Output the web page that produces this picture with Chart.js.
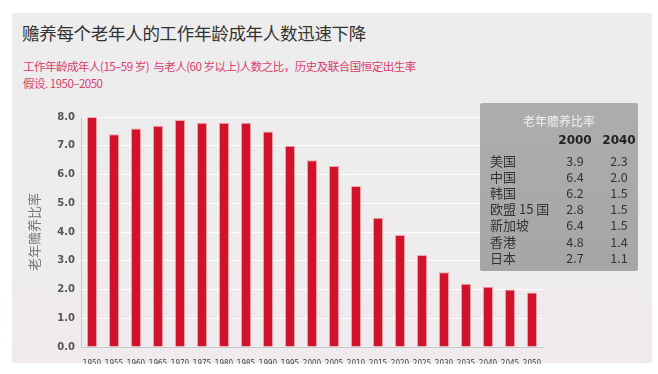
<!DOCTYPE html>
<html>
<head>
<meta charset="utf-8">
<script src="https://cdn.jsdelivr.net/npm/chart.js@4.4.1/dist/chart.umd.min.js"></script>
<style>
  html, body { margin: 0; padding: 0; background: #fff; }
  body { width: 658px; height: 374px; position: relative; overflow: hidden; font-family: "Noto Sans CJK SC", "Noto Sans", sans-serif; }
  #panel { position: absolute; left: 12px; top: 13px; width: 640px; height: 350px; background: linear-gradient(180deg, #ededed 0%, #eeecec 70%, #f0eaee 100%); }
  #title { position: absolute; left: 22px; top: 20px; font-size: 17.5px; color: #333; white-space: nowrap; letter-spacing: -0.3px; }
  .sub { position: absolute; left: 23px; font-size: 11.5px; color: #d83d70; white-space: nowrap; letter-spacing: -0.5px; }
  #chartWrap { position: absolute; left: 0; top: 0; width: 658px; height: 374px; }
  #tbl { position: absolute; left: 480px; top: 103px; width: 158px; height: 168px; background: linear-gradient(180deg, #adadad 0%, #a6a6a6 100%); border-radius: 2px; }
  #tbl div { position: absolute; white-space: nowrap; color: #333; }
</style>
</head>
<body>
<div id="panel"></div>
<div id="title">赡养每个老年人的工作年龄成年人数迅速下降</div>
<div class="sub" style="top:58px">工作年龄成年人(15–59 岁)&nbsp; 与老人(60 岁以上)人数之比，历史及联合国恒定出生率</div>
<div class="sub" style="top:75px">假设. 1950–2050</div>
<div id="chartWrap"><canvas id="c" width="658" height="374"></canvas></div>
<div id="tbl"></div>
<script>
// 老年赡养比率 by year
const years = ['1950','1955','1960','1965','1970','1975','1980','1985','1990','1995','2000',
               '2005','2010','2015','2020','2025','2030','2035','2040','2045','2050'];
const ratio = [8.0, 7.4, 7.6, 7.7, 7.9, 7.8, 7.8, 7.8, 7.5, 7.0, 6.5,
               6.3, 5.6, 4.5, 3.9, 3.2, 2.6, 2.2, 2.1, 2.0, 1.9];

// side table
const tableTitle = '老年赡养比率';
const tableCols = ['2000', '2040'];
const countries = ['美国', '中国', '韩国', '欧盟 15 国', '新加坡', '香港', '日本'];
const val2000 = ['3.9', '6.4', '6.2', '2.8', '6.4', '4.8', '2.7'];
const val2040 = ['2.3', '2.0', '1.5', '1.5', '1.5', '1.4', '1.1'];

const tbl = document.getElementById('tbl');
function cell(text, x, y, style) {
  const d = document.createElement('div');
  d.textContent = text;
  d.style.left = x + 'px';
  d.style.top = y + 'px';
  Object.assign(d.style, style || {});
  tbl.appendChild(d);
  return d;
}
cell(tableTitle, 0, 9, { width: '158px', textAlign: 'center', color: '#f2f2f2', fontSize: '12px' });
cell(tableCols[0], 78, 30, { width: '34px', textAlign: 'center', fontWeight: 'bold', fontSize: '12px', color: '#222', fontFamily: 'DejaVu Sans' });
cell(tableCols[1], 122, 30, { width: '34px', textAlign: 'center', fontWeight: 'bold', fontSize: '12px', color: '#222', fontFamily: 'DejaVu Sans' });
countries.forEach((name, i) => {
  const y = 48 + i * 16.1;
  cell(name, 10, y, { fontSize: '13px', color: '#333' });
  cell(val2000[i], 80, y, { width: '30px', textAlign: 'center', fontSize: '12.5px', color: '#333' });
  cell(val2040[i], 124, y, { width: '30px', textAlign: 'center', fontSize: '12.5px', color: '#333' });
});

new Chart(document.getElementById('c'), {
  type: 'bar',
  data: {
    labels: years,
    datasets: [{
      data: ratio,
      backgroundColor: '#d0122b',
      borderColor: 'rgba(240,120,130,0.6)',
      borderWidth: 1,
      barPercentage: 0.5,
      categoryPercentage: 0.92
    }]
  },
  options: {
    responsive: false,
    animation: false,
    layout: { padding: { left: 26, top: 117, right: 115, bottom: 10 } },
    plugins: { legend: { display: false }, tooltip: { enabled: false } },
    scales: {
      y: {
        min: 0, max: 8,
        afterFit: (s) => { s.width = 55; },
        ticks: {
          stepSize: 1,
          color: '#555',
          padding: 6,
          font: { size: 10, weight: 'bold', family: 'DejaVu Sans' },
          callback: (v) => v.toFixed(1)
        },
        grid: { color: 'rgba(255,255,255,0.9)', drawTicks: false },
        border: { color: '#c8c8c8' },
        title: {
          display: true,
          text: '老年赡养比率',
          color: '#777',
          font: { size: 13, family: 'Noto Sans CJK SC' },
          padding: { top: 0, bottom: 8 }
        }
      },
      x: {
        afterFit: (s) => { s.height = 17; },
        ticks: {
          color: '#444',
          maxRotation: 0,
          autoSkip: false,
          padding: 4,
          font: { size: 8, family: "'Liberation Sans Narrow', 'DejaVu Sans Condensed', sans-serif" }
        },
        grid: { display: false },
        border: { color: '#c8c8c8' }
      }
    }
  }
});
</script>
</body>
</html>
